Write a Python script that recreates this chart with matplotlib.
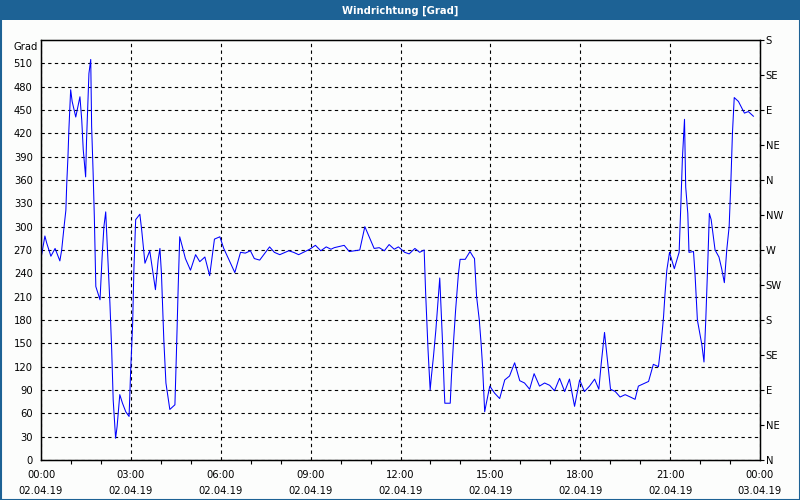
import numpy as np
import matplotlib.pyplot as plt
from matplotlib.patches import Rectangle

# wind direction readings, hours since 02.04.19 00:00
hours = [0.00, 0.13, 0.19, 0.33, 0.47, 0.63, 0.69, 0.77, 0.83, 0.86, 0.90, 0.93,
         0.99, 1.04, 1.16, 1.30, 1.36, 1.41, 1.49, 1.52, 1.60, 1.66, 1.69, 1.74,
         1.78, 1.81, 1.83, 1.97, 2.04, 2.10, 2.16, 2.22, 2.30, 2.36, 2.41, 2.49,
         2.54, 2.63, 2.72, 2.83, 2.94, 2.99, 3.06, 3.10, 3.16, 3.30, 3.36, 3.47,
         3.63, 3.74, 3.82, 3.91, 3.97, 4.02, 4.10, 4.17, 4.30, 4.47, 4.52, 4.58,
         4.63, 4.72, 4.82, 4.99, 5.16, 5.30, 5.47, 5.63, 5.79, 5.97, 6.10, 6.47,
         6.66, 6.82, 6.99, 7.12, 7.30, 7.63, 7.79, 7.97, 8.27, 8.43, 8.60, 8.97,
         9.16, 9.34, 9.52, 9.68, 9.79, 10.12, 10.29, 10.64, 10.81, 11.12, 11.29,
         11.46, 11.62, 11.79, 11.93, 12.14, 12.29, 12.48, 12.64, 12.79, 12.84,
         12.92, 12.99, 13.03, 13.10, 13.18, 13.23, 13.31, 13.40, 13.46, 13.48,
         13.66, 13.70, 13.77, 13.84, 13.93, 13.99, 14.16, 14.32, 14.43, 14.47,
         14.54, 14.63, 14.69, 14.74, 14.81, 14.85, 14.98, 15.14, 15.31, 15.48,
         15.64, 15.81, 15.98, 16.14, 16.31, 16.46, 16.64, 16.81, 16.98, 17.14,
         17.31, 17.48, 17.64, 17.81, 17.98, 18.14, 18.31, 18.48, 18.62, 18.70,
         18.81, 18.92, 19.01, 19.17, 19.33, 19.50, 19.67, 19.83, 19.94, 20.11,
         20.28, 20.44, 20.61, 20.70, 20.78, 20.83, 20.89, 20.98, 21.14, 21.30,
         21.36, 21.41, 21.48, 21.52, 21.59, 21.63, 21.78, 21.83, 21.91, 22.06,
         22.13, 22.19, 22.26, 22.31, 22.37, 22.50, 22.63, 22.72, 22.81, 22.89,
         22.97, 23.03, 23.08, 23.14, 23.28, 23.48, 23.61, 23.78]
direction = [259, 288, 279, 262, 272, 256, 270, 300, 321, 356, 390, 424,
             476, 461, 441, 467, 437, 399, 364, 411, 497, 515, 429, 369,
             313, 257, 223, 206, 261, 300, 319, 270, 202, 141, 77, 28,
             43, 84, 73, 62, 56, 112, 176, 244, 309, 316, 296, 253,
             269, 240, 219, 257, 272, 240, 154, 99, 65, 71, 137, 223,
             287, 274, 259, 244, 264, 255, 261, 237, 284, 287, 272, 241,
             267, 266, 269, 259, 257, 274, 267, 264, 269, 267, 264, 271,
             276, 269, 274, 271, 273, 276, 268, 270, 300, 272, 273,
             269, 277, 271, 274, 267, 265, 272, 267, 270, 214,
             141, 90, 107, 133, 167, 193, 234, 154, 90, 73,
             73, 107, 152, 193, 238, 258, 258, 268, 261, 259,
             210, 180, 150, 120, 62, 70, 95, 86, 79, 103,
             108, 125, 102, 99, 91, 111, 95, 99, 96, 89,
             105, 88, 104, 69, 103, 88, 95, 104, 91, 124,
             164, 124, 91, 88, 81, 84, 81, 78, 95, 98,
             101, 123, 120, 150, 184, 214, 244, 267, 246, 267,
             330, 388, 438, 351, 317, 267, 268, 240, 180, 148,
             126, 180, 257, 317, 309, 270, 261, 246, 228, 270,
             300, 360, 420, 466, 461, 446, 448, 442]

x_ticks = [0, 3, 6, 9, 12, 15, 18, 21, 24]
x_labels = ['00:00\n02.04.19', '03:00\n02.04.19', '06:00\n02.04.19',
            '09:00\n02.04.19', '12:00\n02.04.19', '15:00\n02.04.19',
            '18:00\n02.04.19', '21:00\n02.04.19', '00:00\n03.04.19']
y_ticks = list(range(0, 540, 30))
compass_pos = list(range(0, 541, 45))
compass = ['N', 'NE', 'E', 'SE', 'S', 'SW', 'W', 'NW', 'N', 'NE', 'E', 'SE', 'S']

bar_col = '#1D6295'
bg = '#FCFDFC'
plt.rcParams['font.family'] = 'DejaVu Sans'

fig = plt.figure(figsize=(8, 5), dpi=100, facecolor=bg)
ax = fig.add_axes([41 / 800, 40 / 500, 719 / 800, 420 / 500])
ax.set_facecolor(bg)

ax.plot(hours, direction, color='#0000FF', lw=0.75)

ax.set_xlim(0, 24)
ax.set_ylim(0, 540)
ax.set_xticks(x_ticks)
ax.set_xticklabels(x_labels, fontsize=7.2, linespacing=1.75)
ax.set_xticks(np.arange(0, 25, 1), minor=True)
ax.set_yticks(y_ticks)
ax.set_yticklabels([str(v) for v in y_ticks], fontsize=7.2)
ax.tick_params(axis='x', which='major', length=0, pad=7)
ax.tick_params(axis='x', which='minor', length=3, width=0.8, direction='out')
ax.tick_params(axis='y', which='major', length=0, pad=6)
ax.grid(True, which='major', color='black', linestyle=(0, (3, 3)), lw=0.8)
for s in ax.spines.values():
    s.set_color('black')
    s.set_linewidth(1.0)

ax2 = ax.twinx()
ax2.set_ylim(0, 540)
ax2.set_yticks(compass_pos)
ax2.set_yticklabels(compass, fontsize=7.2)
ax2.tick_params(axis='y', length=3, width=0.8, pad=1, direction='out')

ax.text(-0.005, 538, 'Grad', transform=ax.get_yaxis_transform(), ha='right',
        va='top', fontsize=7.2)

# title bar and window border
fig.patches.append(Rectangle((0, 1 - 20 / 500), 1, 20 / 500, transform=fig.transFigure,
                             facecolor=bar_col, edgecolor='none', zorder=0))
fig.patches.append(Rectangle((0.5 / 800, 0.5 / 500), 799 / 800, 499 / 500,
                             transform=fig.transFigure, facecolor='none',
                             edgecolor=bar_col, lw=1.5, zorder=5))
fig.text(0.5, 1 - 10.5 / 500, 'Windrichtung [Grad]', color='white', ha='center',
         va='center', fontsize=7.2, fontweight='bold')

fig.savefig('out.png', dpi=100, facecolor=bg)
